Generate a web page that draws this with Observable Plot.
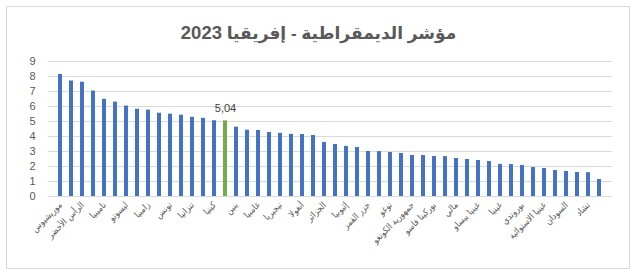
<!DOCTYPE html>
<html>
<head>
<meta charset="utf-8">
<script src="https://cdn.jsdelivr.net/npm/d3@7"></script>
<script src="https://cdn.jsdelivr.net/npm/@observablehq/plot@0.6"></script>
<style>
  html, body { margin: 0; padding: 0; background: #fff; }
  #wrap { position: relative; width: 637px; height: 279px; overflow: hidden; }
  #frame { position: absolute; left: 6px; top: 6px; width: 624px; height: 263px; border: 1px solid #d9d9d9; box-sizing: border-box; }
  #title { position: absolute; left: 0; top: 21px; width: 637px; text-align: center; font-family: "Liberation Sans", "DejaVu Sans", sans-serif; font-weight: bold; font-size: 17px; line-height: 24px; color: #595959; }
  #title .yr { font-size: 18.5px; }
  #chart { position: absolute; left: 0; top: 50px; }
</style>
</head>
<body>
<div id="wrap">
  <div id="frame"></div>
  <div id="title">مؤشر الديمقراطية - إفريقيا <span class="yr">2023</span></div>
  <div id="chart"></div>
</div>
<script>
const countries = [
  "موريشيوس", "بوتسوانا", "الرأس الأخضر", "جنوب إفريقيا", "ناميبيا",
  "غانا", "ليسوتو", "مالاوي", "زامبيا", "السنغال",
  "تونس", "ليبيريا", "تنزانيا", "مدغشقر", "كينيا",
  "المغرب", "بنين", "أوغندا", "غامبيا", "سيراليون",
  "نيجيريا", "ساحل العاج", "أنغولا", "موريتانيا", "الجزائر",
  "النيجر", "إثيوبيا", "الغابون", "جزر القمر", "مصر",
  "توغو", "موزمبيق", "جمهورية الكونغو", "رواندا", "بوركينا فاسو",
  "الكاميرون", "مالي", "زيمبابوي", "غينيا بيساو", "جيبوتي",
  "غينيا", "إسواتيني", "بوروندي", "إريتريا", "غينيا الاستوائية",
  "ليبيا", "السودان", "الكونغو الديمقراطية", "تشاد", "جمهورية إفريقيا الوسطى"
];
const scores = [
  8.14, 7.70, 7.62, 7.03, 6.48,
  6.29, 6.03, 5.82, 5.76, 5.55,
  5.49, 5.42, 5.28, 5.21, 5.05,
  5.04, 4.62, 4.42, 4.40, 4.27,
  4.21, 4.14, 4.13, 4.07, 3.61,
  3.47, 3.34, 3.27, 3.00, 2.99,
  2.93, 2.87, 2.74, 2.73, 2.67,
  2.66, 2.53, 2.47, 2.40, 2.33,
  2.14, 2.13, 2.07, 1.93, 1.87,
  1.73, 1.67, 1.60, 1.59, 1.13
];
const highlighted = "المغرب";
const yTicks = [0, 1, 2, 3, 4, 5, 6, 7, 8, 9];
const shownLabels = countries.filter((c, i) => i % 2 === 0);

const data = countries.map((c, i) => ({country: c, score: scores[i]}));

const chart = Plot.plot({
  width: 637,
  height: 229,
  marginLeft: 48,
  marginRight: 25,
  marginTop: 11,
  marginBottom: 83,
  style: {fontFamily: "'Liberation Sans', 'DejaVu Sans', sans-serif", fontSize: "10px", color: "#595959", background: "transparent", overflow: "visible"},
  x: {domain: countries, padding: 0.6, label: null},
  y: {domain: [0, 9], label: null},
  marks: [
    Plot.gridY(yTicks, {stroke: "#d9d9d9", strokeOpacity: 1}),
    Plot.barY(data, {x: "country", y: "score", fill: d => d.country === highlighted ? "#70AD47" : "#4472C4"}),
    Plot.text(data.filter(d => d.country === highlighted), {x: "country", y: "score", text: d => d.score.toFixed(2).replace(".", ","), dy: -12, fill: "#404040", fontSize: 11}),
    Plot.axisY(yTicks, {tickSize: 0, tickPadding: 13, fontSize: 11, fill: "#595959", label: null}),
    Plot.axisX(shownLabels, {tickSize: 0, tickPadding: 7, tickRotate: -45, textAnchor: "end", fill: "#595959", fontSize: 9, fontFamily: "'DejaVu Sans Condensed', 'DejaVu Sans', sans-serif", label: null})
  ]
});
document.getElementById("chart").appendChild(chart);
</script>
</body>
</html>
